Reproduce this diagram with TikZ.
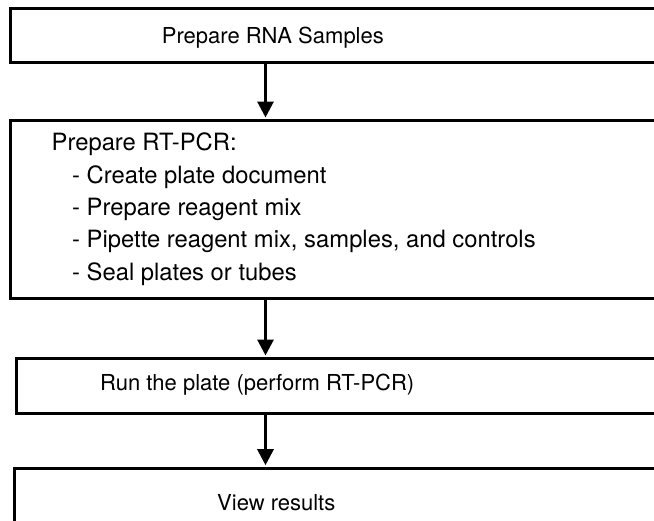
\documentclass[tikz,border=0pt]{standalone}
\usepackage{fontspec}
\setmainfont{TeX Gyre Heros}
\usetikzlibrary{arrows.meta}
\begin{document}
\begin{tikzpicture}[x=1pt,y=-1pt,
  stage/.style={draw=black, line width=3pt, rectangle, inner sep=0pt,
    anchor=north west, minimum width=720pt},
  label/.style={anchor=base west, inner sep=0pt,
    font=\fontsize{22}{26}\selectfont},
  biglabel/.style={label, font=\fontsize{23.8}{28}\selectfont},
  flow/.style={line width=3pt, -{Triangle[length=16pt,width=16pt]},
    shorten >=1.5pt}]
\useasboundingbox (0,0) rectangle (654,520);
\clip (0,0) rectangle (654,520);

% stage boxes (they run past the right edge of the page)
\node[stage, minimum height=54pt]  (rna)  at (8.5,7.3)   {};
\node[stage, minimum height=177.5pt] (prep) at (8.5,119)  {};
\node[stage, minimum height=54.5pt] (run)  at (14.5,357)  {};
\node[stage, minimum height=70pt]  (view) at (12.5,466.7) {};

% texts
\node[label] (t1) at (161.7,43.3) {Prepare RNA Samples};
\node[biglabel] (t2) at (51.5,150.7) {Prepare RT-PCR:};
\node[biglabel] (t3) at (72,183.3) {- Create plate document};
\node[biglabel] (t4) at (72,215.3) {- Prepare reagent mix};
\node[biglabel] (t5) at (72,247.7) {- Pipette reagent mix, samples, and controls};
\node[biglabel] (t6) at (72,280)   {- Seal plates or tubes};
\node[label] (t7) at (100,390)  {Run the plate (perform RT-PCR)};
\node[label] (t8) at (217,510)  {View results};

% connectors
\coordinate (ax) at (265.5,0);
\draw[flow] (rna.south -| ax)  -- (prep.north -| ax);
\draw[flow] (prep.south -| ax) -- (run.north -| ax);
\draw[flow] (run.south -| ax)  -- (view.north -| ax);
\end{tikzpicture}
\end{document}
